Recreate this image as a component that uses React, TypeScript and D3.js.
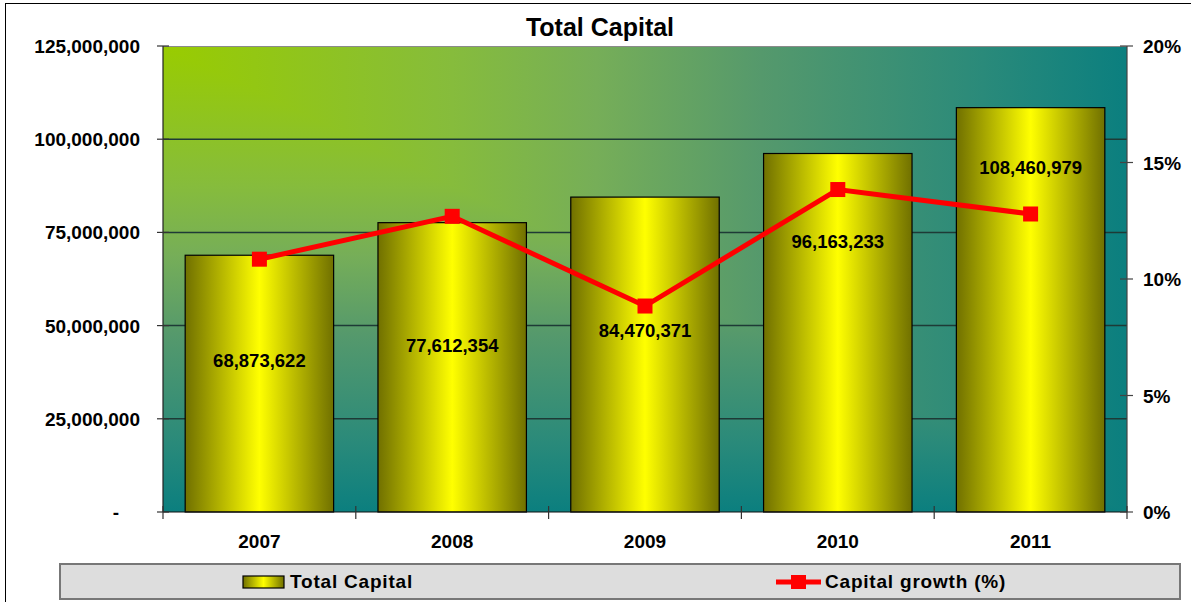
import React from "react";
import * as d3 from "d3";

const years = ["2007", "2008", "2009", "2010", "2011"];
const totalCapital = [68873622, 77612354, 84470371, 96163233, 108460979];
const capitalGrowth = [0.1085, 0.1269, 0.0884, 0.1384, 0.1279];
const leftTicks = [0, 25000000, 50000000, 75000000, 100000000, 125000000];
const rightTicks = [0, 0.05, 0.1, 0.15, 0.2];
// layout: label position as a fraction of each bar's height
const labelFrac = [0.592, 0.577, 0.578, 0.754, 0.852];

const W = 1191;
const H = 602;
const PL = 163, PR = 1127, PT = 46, PB = 512;
const FONT = "'Liberation Sans', Arial, sans-serif";

export default function App() {
  const x = d3.scaleBand<string>().domain(years).range([PL, PR]).paddingInner(0.23).paddingOuter(0.115);
  const y = d3.scaleLinear().domain([0, 125000000]).range([PB, PT]);
  const y2 = d3.scaleLinear().domain([0, 0.2]).range([PB, PT]);
  const fmt = d3.format(",");
  const pct = d3.format(".0%");
  const step = x.step();
  const bw = x.bandwidth();
  const cx = (i: number) => (x(years[i]) as number) + bw / 2;

  const line = d3
    .line<number>()
    .x((_, i) => cx(i))
    .y((d) => y2(d));

  const bgStops: [number, string][] = [
    [0, "#99CC00"],
    [0.3, "#86BC3C"],
    [0.45, "#76AE58"],
    [0.62, "#55996C"],
    [0.85, "#2A8A7A"],
    [1, "#0B7F7F"],
  ];

  const boundaries = d3.range(years.length + 1).map((i) => PL + i * step);

  return (
    <svg width={W} height={H} style={{ position: "absolute", left: 0, top: 0 }} fontFamily={FONT}>
      <defs>
        <linearGradient id="bgH" gradientUnits="userSpaceOnUse" x1={PL} y1={0} x2={PR} y2={0}>
          {bgStops.map(([o, c]) => (
            <stop key={o} offset={o} stopColor={c} />
          ))}
        </linearGradient>
        <linearGradient id="bgV" gradientUnits="userSpaceOnUse" x1={0} y1={PT} x2={0} y2={PB}>
          {bgStops.map(([o, c]) => (
            <stop key={o} offset={o} stopColor={c} />
          ))}
        </linearGradient>
        <linearGradient id="barG" x1="0" y1="0" x2="1" y2="0">
          <stop offset="0" stopColor="#707000" />
          <stop offset="0.5" stopColor="#FFFF00" />
          <stop offset="1" stopColor="#707000" />
        </linearGradient>
      </defs>
      <rect x={0} y={0} width={W} height={H} fill="#fff" />
      <rect x={5.5} y={3.5} width={1300} height={800} fill="none" stroke="#000" strokeWidth={1} />

      {/* Title */}
      <text x={600} y={35.5} textAnchor="middle" fontSize={25} fontWeight="bold" fill="#000">
        Total Capital
      </text>

      {/* plot background: gradient from top-left corner */}
      <rect x={PL} y={PT} width={PR - PL} height={PB - PT} fill="url(#bgV)" />
      <path d={`M${PL},${PT}L${PR},${PT}L${PR},${PB}Z`} fill="url(#bgH)" />

      {/* gridlines */}
      {leftTicks.slice(1, -1).map((t) => (
        <line key={t} x1={PL} x2={PR} y1={y(t)} y2={y(t)} stroke="#1e3a36" strokeWidth={1.5} />
      ))}
      <line x1={PL} x2={PR} y1={PT + 0.5} y2={PT + 0.5} stroke="#8a8a8a" strokeWidth={1} />

      {/* bars */}
      {totalCapital.map((v, i) => (
        <rect
          key={years[i]}
          x={x(years[i])}
          y={y(v)}
          width={bw}
          height={PB - y(v)}
          fill="url(#barG)"
          stroke="#000"
          strokeWidth={1.2}
        />
      ))}

      {/* axes */}
      <line x1={PL} x2={PL} y1={PT} y2={PB} stroke="#222" strokeWidth={1.2} />
      <line x1={PR} x2={PR} y1={PT} y2={PB} stroke="#444" strokeWidth={1.2} />
      <line x1={PL} x2={PR} y1={PB} y2={PB} stroke="#111" strokeWidth={1.2} />
      {leftTicks.map((t) => (
        <line key={"lt" + t} x1={PL - 6} x2={PL + 6} y1={y(t)} y2={y(t)} stroke="#333" strokeWidth={1.2} />
      ))}
      {rightTicks.map((t) => (
        <line key={"rt" + t} x1={PR - 7} x2={PR + 6} y1={y2(t)} y2={y2(t)} stroke="#444" strokeWidth={1.2} />
      ))}
      {boundaries.map((b, i) => (
        <line key={"xt" + i} x1={b} x2={b} y1={PB - 6} y2={PB + 7} stroke="#333" strokeWidth={1.2} />
      ))}

      {/* left tick labels */}
      {leftTicks.map((t) => (
        <text
          key={"ll" + t}
          x={t === 0 ? 119 : 140}
          y={y(t) + 7}
          textAnchor="end"
          fontSize={19}
          fontWeight="bold"
          fill="#000"
        >
          {t === 0 ? "-" : fmt(t)}
        </text>
      ))}
      {/* right tick labels */}
      {rightTicks.map((t) => (
        <text key={"rl" + t} x={1143} y={y2(t) + 7} fontSize={19} fontWeight="bold" fill="#000">
          {pct(t)}
        </text>
      ))}
      {/* category labels */}
      {years.map((yr, i) => (
        <text key={"cl" + yr} x={cx(i)} y={548} textAnchor="middle" fontSize={19} fontWeight="bold" fill="#000">
          {yr}
        </text>
      ))}

      {/* growth line */}
      <path d={line(capitalGrowth) || ""} fill="none" stroke="#FF0000" strokeWidth={5} />
      {capitalGrowth.map((g, i) => (
        <rect key={"m" + i} x={cx(i) - 7.5} y={y2(g) - 7.5} width={15} height={15} fill="#FF0000" />
      ))}

      {/* bar labels */}
      {totalCapital.map((v, i) => (
        <text
          key={"bl" + i}
          x={cx(i)}
          y={y(v * labelFrac[i]) + 6.7}
          textAnchor="middle"
          fontSize={18.5}
          fontWeight="bold"
          fill="#000"
        >
          {fmt(v)}
        </text>
      ))}

      {/* legend */}
      <rect x={60} y={564} width={1120} height={35} fill="#DDDDDD" stroke="#777" strokeWidth={2} />
      <rect x={243} y={576} width={41} height={12} fill="url(#barG)" stroke="#000" strokeWidth={1.2} />
      <text x={290} y={587.5} fontSize={19} fontWeight="bold" fill="#000" letterSpacing={0.8}>
        Total Capital
      </text>
      <line x1={776} x2={821} y1={582} y2={582} stroke="#FF0000" strokeWidth={5} />
      <rect x={791} y={575} width={15} height={14} fill="#FF0000" />
      <text x={825} y={587.5} fontSize={19} fontWeight="bold" fill="#000" letterSpacing={0.8}>
        Capital growth (%)
      </text>
    </svg>
  );
}
